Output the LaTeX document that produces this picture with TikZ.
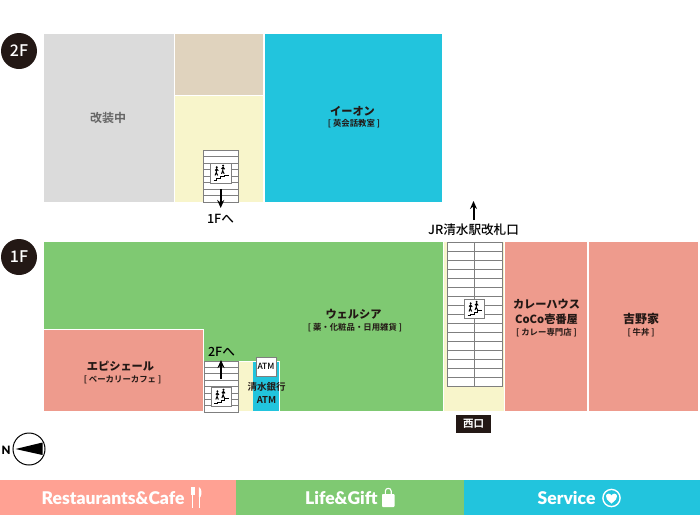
\documentclass[tikz,border=0pt]{standalone}
\usepackage{fontspec}
\setmainfont{Lato}
\newfontfamily\bandfont{Lato Black}
\newfontfamily\jp{Noto Sans CJK JP}[BoldFont={Noto Sans CJK JP Bold}]
\newfontfamily\jpm{Noto Sans CJK JP Medium}
\newfontfamily\jpk{Noto Sans CJK JP Black}
\usetikzlibrary{arrows.meta}
\definecolor{cgreen}{HTML}{7FC972}
\definecolor{ccyan}{HTML}{22C4DD}
\definecolor{cgray}{HTML}{DBDBDB}
\definecolor{cbeige}{HTML}{E0D3BE}
\definecolor{cyellow}{HTML}{F8F5CB}
\definecolor{csalmon}{HTML}{EE9B8D}
\definecolor{cband}{HTML}{FFA193}
\definecolor{cdark}{HTML}{231815}
\definecolor{cline}{HTML}{7F7F7F}
\tikzset{
  x=1pt,y=-1pt,
  tx/.style={font=\jpk\fontsize{11.2}{14}\selectfont,text=cdark,align=center,inner sep=0pt},
  small/.style={font=\jp\bfseries\fontsize{8.4}{9}\selectfont,text=cdark,inner sep=0pt},
  way/.style={font=\jpm\fontsize{12.6}{14}\selectfont,text=black,inner sep=0pt},
  tag/.style={circle,fill=cdark,minimum size=36pt,inner sep=0pt,text=white,font=\jpm\fontsize{16}{18}\selectfont},
  bandtx/.style={font=\bandfont\fontsize{17.5}{20}\selectfont,text=white,inner sep=0pt},
  flow/.style={-{Stealth[length=8pt,width=7pt]},line width=2pt,black},
  tread/.style={draw=cline,line width=.8pt},
  person/.pic={
    \fill[black] (0,-4.2) circle (1.1);
    \draw[black,line width=1pt] (0,-3) -- (-.4,1) (-.4,1) -- (-1.6,4) (-.4,1) -- (1,4) (-1.6,-1) -- (0,-2.6) -- (1.5,-.6);
  },
  climb/.pic={
    \draw[draw=cline,fill=white,line width=.8pt] (-10.5,-10) rectangle (10.5,10);
    \draw[black,line width=1pt] (-7,7) -- (-4,7) -- (-4,5.5) -- (0,5.5) -- (0,3.5) -- (4,3.5) -- (4,2) -- (8,2);
    \path (-3.8,-1.6) pic {person} (2.6,-3.2) pic {person};
  }
}
\begin{document}
\begin{tikzpicture}
\useasboundingbox (0,0) rectangle (700,515);
\fill[white] (0,0) rectangle (700,515);
% 2F
\fill[cgray] (44,34) rectangle (174,202);
\fill[cbeige] (175,34) rectangle (263,95);
\fill[cyellow] (175,96) rectangle (263,202);
\fill[ccyan] (264.5,34) rectangle (442,202);
\node[tx,font=\jp\bfseries\fontsize{12}{14}\selectfont,text=black!60] (kaiso) at (108,118) {改装中};
\node[tx] (aeon) at (352.5,111) {イーオン};
\node[small] (aeons) at (354,124) {[ 英会話教室 ]};
\draw[tread,fill=white] (203,150) rectangle (238,202);
\foreach \i in {1,...,7}{\draw[tread] (203,150+6.5*\i) -- (238,150+6.5*\i);}
\path (220.5,173) pic {climb};
\coordinate (a1s) at (220.7,189);
\coordinate (a1e) at (220.7,208);
\draw[flow] (a1s) -- (a1e);
\node[way] (to1f) at (220.5,218.5) {1Fへ};
% 1F
\fill[cgreen] (44,242) rectangle (443,411);
\fill[white] (44,329) rectangle (204,411);
\fill[csalmon] (44,330) rectangle (203,411);
\fill[white] (238,361) rectangle (280,411);
\fill[cyellow] (239,362) rectangle (253,411);
\fill[ccyan] (253,362) rectangle (279,411);
\fill[cyellow] (444,242) rectangle (504,411);
\fill[csalmon] (505,242) rectangle (587,411);
\fill[csalmon] (589,242) rectangle (698,411);
% short stair
\draw[tread,fill=white] (204,361) rectangle (238,412);
\foreach \i in {1,...,7}{\draw[tread] (204,361+6.4*\i) -- (238,361+6.4*\i);}
\path (221,397) pic[scale=.95] {climb};
\coordinate (a2s) at (221,379);
\coordinate (a2e) at (221,360);
\draw[flow] (a2s) -- (a2e);
\node[way] (to2f) at (221.5,352) {2Fへ};
% long stair
\draw[tread,fill=white] (447,242.5) rectangle (502,386.5);
\foreach \i in {1,...,15}{\draw[tread] (447,242.5+9*\i) -- (502,242.5+9*\i);}
\draw[tread] (474.2,242.5) -- (474.2,386.5);
\path (474.2,309) pic[scale=.93] {climb};
\coordinate (a3s) at (473.5,220);
\coordinate (a3e) at (473.5,201);
\draw[flow] (a3s) -- (a3e);
\node[way] (jr) at (473.5,229.5) {JR清水駅改札口};
% ATM
\node[draw=cline,fill=white,line width=.8pt,minimum width=20pt,minimum height=19pt,inner sep=0pt,font=\jpm\fontsize{8.5}{10}\selectfont,text=black] (atm) at (266,366.5) {ATM};
\node[tx,font=\jp\bfseries\fontsize{9.5}{13.5}\selectfont] (bank) at (266.5,393) {清水銀行\\ATM};
% shop text
\node[tx] (welcia) at (353.5,314) {ウェルシア};
\node[small] (welcias) at (355,328) {[ 薬・化粧品・日用雑貨 ]};
\node[tx] (epi) at (120.5,366) {エピシェール};
\node[small] (epis) at (122.5,379.5) {[ ベーカリーカフェ ]};
\node[tx,font=\jpk\fontsize{11.2}{14.5}\selectfont] (coco) at (546.5,312) {カレーハウス\\CoCo壱番屋};
\node[small] (cocos) at (546.5,333) {[ カレー専門店 ]};
\node[tx,font=\jpk\fontsize{12}{14}\selectfont] (yoshi) at (641,318.5) {吉野家};
\node[small] (yoshis) at (641,333) {[ 牛丼 ]};
\node[fill=cdark,minimum width=35pt,minimum height=18pt,inner sep=0pt,text=white,font=\jp\bfseries\fontsize{10.5}{12}\selectfont] (west) at (473.5,424) {西口};
% floor tags
\node[tag] (f2) at (19,51) {2F};
\node[tag] (f1) at (19,257) {1F};
% compass
\node[font=\bandfont\fontsize{11.5}{12}\selectfont,text=black,inner sep=0pt] (north) at (6,450) {N};
\draw[black,line width=1pt,fill=white] (29,449) circle (16);
\fill[black] (15.5,449) -- (42.5,442.5) -- (42.5,455) -- cycle;
% legend
\fill[cband] (0,480) rectangle (236,515);
\fill[cgreen] (236,480) rectangle (464,515);
\fill[ccyan] (464,480) rectangle (700,515);
\node[bandtx,anchor=west] (rc) at (41.5,498) {Restaurants\&Cafe};
\node[bandtx,anchor=west] (lg) at (305,498) {Life\&Gift};
\node[bandtx,anchor=west] (sv) at (537.5,498) {Service};
% cutlery
\draw[white,line width=1.3pt] (192.5,487) -- (192.5,508);
\fill[white] (190.5,487) -- (190.5,495) -- (194.5,495) -- (194.5,487) -- cycle;
\draw[white,line width=1.3pt] (199.5,495) -- (199.5,508);
\fill[white] (199,487) .. controls (202,489) and (202,494) .. (200.5,497) -- (198.8,497) -- cycle;
% bag
\fill[white,rounded corners=.8pt] (382,494) rectangle (394.5,507);
\draw[white,line width=1.1pt] (385.3,495) -- (385.3,491) .. controls (385.3,487.5) and (391.2,487.5) .. (391.2,491) -- (391.2,495);
% heart
\draw[white,line width=1.4pt] (611.5,498) circle (8.6);
\fill[white] (611.5,503.5) .. controls (607,500) and (605.5,498) .. (606,495.8) .. controls (606.6,493) and (610.3,493) .. (611.5,495.5) .. controls (612.7,493) and (616.4,493) .. (617,495.8) .. controls (617.5,498) and (616,500) .. (611.5,503.5) -- cycle;
\end{tikzpicture}
\end{document}
